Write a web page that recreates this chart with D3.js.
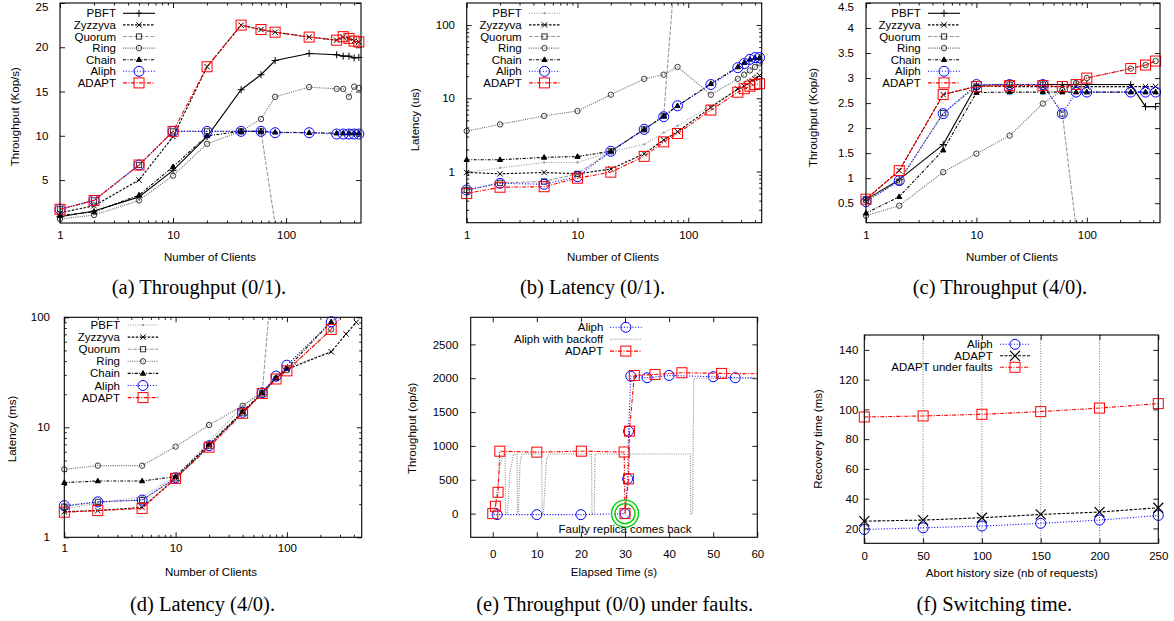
<!DOCTYPE html>
<html>
<head>
<meta charset="utf-8">
<script src="https://cdn.jsdelivr.net/npm/d3@7"></script>
<style>
  body { margin: 0; background: #fff; }
  text { font-family: "Liberation Sans", Arial, sans-serif; font-size: 11.5px; fill: #000; }
  .cap { font-family: "Liberation Serif", "Times New Roman", serif; font-size: 20.5px; }
</style>
</head>
<body>
<svg id="fig" width="1174" height="621"></svg>
<script>

// ---- data ----

// (a) throughput 0/1, (b) latency 0/1
var clientsAB = [1, 2, 5, 10, 20, 40, 60, 80, 160, 280, 320, 360, 400, 440];
var a_pbft     = [0.85, 1.5, 3.1, 6.1, 9.9, 15.2, 16.9, 18.5, 19.3, 19.15, 19.0, 19.0, 18.8, 18.85];
var a_zyzzyva  = [1.3, 2.1, 5.0, 9.9, 17.8, 22.5, 22.0, 21.7, 21.15, 20.8, 21.15, 21.0, 20.7, 20.6];
var a_quorum   = [1.7, 2.7, 6.7, 10.5, 10.5, 10.5, 10.5, 0];
var a_ring     = [0.6, 1.05, 2.7, 5.5, 9.1, 10.5, 11.9, 14.4, 15.5, 15.3, 15.3, 14.4, 15.55, 15.4];
var a_chain    = [1.0, 1.4, 3.3, 6.5, 10.0, 10.5, 10.5, 10.4, 10.35, 10.3, 10.3, 10.3, 10.3, 10.3];
var a_aliph    = [1.7, 2.7, 6.7, 10.5, 10.5, 10.5, 10.5, 10.35, 10.35, 10.2, 10.2, 10.2, 10.2, 10.2];
var a_adapt    = [1.7, 2.7, 6.7, 10.5, 17.8, 22.5, 22.0, 21.7, 21.15, 20.8, 21.2, 21.0, 20.7, 20.6];

var b_pbft     = [0.97, 1.12, 1.33, 1.33, 1.85, 2.35, 3.4, 4.2, 7.9, 13.5, 16.6, 18.5, 20.5, 24];
var b_zyzzyva  = [0.97, 0.93, 0.97, 0.93, 1.08, 1.75, 2.7, 3.5, 7.5, 13.4, 14.6, 16.6, 18.5, 20.5];
var b_quorum   = [0.56, 0.7, 0.73, 0.93, 1.89, 3.76, 5.75, 1600];
var b_ring     = [3.57, 4.4, 5.75, 6.7, 11.2, 18.4, 21, 26.8, 11.2, 18.4, 21, 24, 26.8, 30];
var b_chain    = [1.45, 1.45, 1.56, 1.6, 1.89, 3.76, 5.75, 7.9, 15.8, 26.8, 30.7, 34, 35.8, 35.8];
var b_aliph    = [0.56, 0.69, 0.67, 0.85, 1.89, 3.76, 5.6, 7.9, 15.4, 26.2, 29.8, 34, 36, 36];
var b_adapt    = [0.5, 0.61, 0.62, 0.81, 0.98, 1.61, 2.54, 3.3, 6.9, 12.1, 13.5, 14.6, 15.4, 15.8];

// (c) throughput 4/0, (d) latency 4/0
var clientsCD = [1, 2, 5, 10, 20, 40, 60, 80, 100, 250, 340, 420];
var c_pbft     = [0.57, 0.97, 1.67, 2.85, 2.87, 2.87, 2.87, 2.87, 2.87, 2.87, 2.43, 2.43];
var c_zyzzyva  = [0.58, 1.15, 2.67, 2.84, 2.83, 2.83, 2.83, 2.83, 2.83, 2.83, 2.83, 2.83];
var c_quorum   = [0.57, 0.93, 2.3, 2.83, 2.87, 2.87, 2.29, 0];
var c_ring     = [0.25, 0.45, 1.12, 1.49, 1.85, 2.49, 2.76, 2.9, 3.0, 3.19, 3.26, 3.34];
var c_chain    = [0.3, 0.63, 1.56, 2.71, 2.72, 2.72, 2.72, 2.72, 2.72, 2.72, 2.72, 2.72];
var c_aliph    = [0.53, 0.95, 2.29, 2.87, 2.87, 2.87, 2.29, 2.72, 2.72, 2.72, 2.72, 2.72];
var c_adapt    = [0.58, 1.15, 2.67, 2.83, 2.85, 2.85, 2.83, 2.87, 3.0, 3.19, 3.26, 3.34];

var d_pbft     = [1.8, 2.04, 2.34, 3.56, 7.4, 15.6, 21.2, 28.5, 34.7, 49];
var d_zyzzyva  = [1.71, 1.75, 1.87, 3.43, 6.8, 13.6, 20.3, 27.8, 33.6, 48.6, 70.5, 90];
var d_quorum   = [1.9, 2.1, 2.18, 3.43, 6.8, 13.6, 20.3, 700];
var d_ring     = [4.15, 4.48, 4.48, 6.67, 10.5, 15.7, 20.8, 27.8, 33, 77.6];
var d_chain    = [3.14, 3.25, 3.25, 3.56, 7.0, 13.9, 20.6, 28.3, 34.3, 91];
var d_aliph    = [1.94, 2.1, 2.18, 3.48, 6.8, 13.7, 20.6, 29.2, 36.7, 91, 114];
var d_adapt    = [1.69, 1.75, 1.83, 3.43, 6.6, 13.4, 20.3, 27.5, 32.6, 77.6, 115];

// (e) throughput 0/0 under faults
var e_aliph_t   = [0.2, 1, 10, 20, 30, 30.6, 30.8, 31.3, 35, 40, 50, 55, 59.5];
var e_aliph_v   = [-15, -15, -15, -15, 0, 513, 1218, 2031, 2007, 2041, 2022, 2007, 2005];
var e_aliph_pt  = [0, 1, 1, 1, 1, 1, 1, 1, 1, 1, 1, 1, 0];
var e_backoff_t = [0.3, 1.0, 1.6, 2.4, 2.8, 2.9, 3.3, 3.9, 4.7, 5.5, 5.6, 5.8, 6.2, 6.6,
                   11.1, 11.2, 11.5, 12.2, 12.8, 22.4, 22.5, 23.0, 23.2, 44.8, 44.9, 45.3, 45.6, 60];
var e_backoff_v = [0, 350, 700, 880, 880, 0, 0, 600, 870, 880, 0, 0, 750, 880,
                   880, 0, 0, 800, 880, 880, 0, 0, 880, 880, 0, 0, 2000, 2000];
var e_adapt_t   = [0, 0.6, 1.2, 1.6, 10, 20.1, 29.8, 30, 30.8, 31.0, 32.1, 36.8, 42.9, 51.9, 60];
var e_adapt_v   = [0, 108, 315, 922, 908, 922, 910, 0, 513, 1218, 2041, 2056, 2081, 2071, 2065];
var e_adapt_pt  = [1, 1, 1, 1, 1, 1, 1, 1, 1, 1, 1, 1, 1, 1, 0];

// (f) switching time
var abortSizes   = [0, 50, 100, 150, 200, 250];
var f_aliph      = [19.3, 20.4, 21.6, 23.4, 25.6, 28.7];
var f_adapt      = [24.9, 25.6, 27.2, 29.4, 31.0, 33.9];
var f_adaptFault = [94.9, 95.6, 96.7, 98.5, 100.9, 103.9];

// tick values
var clientTicks   = [1, 10, 100];
var tputATicks    = [5, 10, 15, 20, 25];
var latTicks      = [1, 10, 100];
var tputCTicks    = [0.5, 1, 1.5, 2, 2.5, 3, 3.5, 4, 4.5];
var timeTicks     = [0, 10, 20, 30, 40, 50, 60];
var tputETicks    = [0, 500, 1000, 1500, 2000, 2500];
var abortTicks    = [0, 50, 100, 150, 200, 250];
var recoveryTicks = [20, 40, 60, 80, 100, 120, 140];

// ---- line styles (gnuplot look) ----
var styles = {
  pbft:     {color: "#000", dash: null,            marker: "plus"},
  pbftGray: {color: "#9a9a9a", dash: "1,1.5",      marker: "dot"},
  zyzzyva:  {color: "#000", dash: "2.5,1.5",       marker: "cross"},
  quorum:   {color: "#999", dash: "4,1.5",         marker: "square", mcolor: "#333"},
  ring:     {color: "#666", dash: "1,1.2",         marker: "circle", mcolor: "#3a3a3a"},
  chain:    {color: "#000", dash: "3,1.5,1,1.5",   marker: "triangle"},
  aliph:    {color: "#0000ff", dash: "1,1.8",      marker: "bigcircle"},
  adapt:    {color: "#ff0000", dash: "4,1.5,1,1.5", marker: "bigsquare"},
  backoff:  {color: "#8a8a8a", dash: "1,1.3",      marker: null},
  adaptX:   {color: "#000", dash: "3,1.5",         marker: "bigcross"}
};

var svg = d3.select("#fig");

function drawMarker(g, type, cx, cy, color) {
  var m = g.append("g")
    .attr("transform", "translate(" + cx + "," + cy + ")")
    .attr("stroke", color).attr("fill", "none").attr("stroke-width", 1);
  if (type == "plus") m.append("path").attr("d", "M-3.5,0H3.5M0,-3.5V3.5");
  if (type == "cross") m.append("path").attr("d", "M-2.7,-2.7L2.7,2.7M-2.7,2.7L2.7,-2.7");
  if (type == "bigcross") m.append("path").attr("d", "M-5,-5L5,5M-5,5L5,-5").attr("stroke-width", 1.2);
  if (type == "square") m.append("rect").attr("x", -2.6).attr("y", -2.6).attr("width", 5.2).attr("height", 5.2);
  if (type == "circle") m.append("circle").attr("r", 2.7);
  if (type == "dot") m.append("circle").attr("r", 0.8).attr("fill", color);
  if (type == "triangle") m.append("path").attr("d", "M0,-2.8L2.6,1.8L-2.6,1.8Z").attr("fill", color);
  if (type == "bigcircle") m.append("circle").attr("r", 5);
  if (type == "bigsquare") m.append("rect").attr("x", -5).attr("y", -5).attr("width", 10).attr("height", 10);
}

function minorLog(dom) {
  var out = [];
  for (var e = Math.floor(Math.log10(dom[0])); e <= Math.ceil(Math.log10(dom[1])); e++) {
    for (var k = 2; k <= 9; k++) {
      var v = k * Math.pow(10, e);
      if (v > dom[0] && v < dom[1]) out.push(v);
    }
  }
  return out;
}

function drawPanel(p) {
  var g = svg.append("g");
  var x = (p.xlog ? d3.scaleLog() : d3.scaleLinear()).domain(p.xdom).range([p.left, p.right]);
  var y = (p.ylog ? d3.scaleLog() : d3.scaleLinear()).domain(p.ydom).range([p.bottom, p.top]);

  svg.append("clipPath").attr("id", "clip" + p.key)
    .append("rect")
    .attr("x", p.left).attr("y", p.top)
    .attr("width", p.right - p.left).attr("height", p.bottom - p.top);

  // vertical grid (only f)
  if (p.grid) {
    g.selectAll(".grid").data(p.xticks.slice(1, -1)).enter().append("line")
      .attr("x1", function(d) { return x(d); }).attr("x2", function(d) { return x(d); })
      .attr("y1", p.top).attr("y2", p.bottom)
      .attr("stroke", "#555").attr("stroke-width", 0.8).attr("stroke-dasharray", "1,1.6");
  }

  // axes: major ticks inward on all four sides, minor ticks on log axes
  var fmt = function(d) { return String(d); };
  function styleAxis(sel) {
    sel.select(".domain").remove();
    sel.selectAll("line").attr("stroke", "#000").attr("stroke-width", 0.9);
    sel.selectAll("text").attr("font-family", null).attr("font-size", null);
  }
  g.append("g").attr("transform", "translate(0," + p.bottom + ")")
    .call(d3.axisBottom(x).tickValues(p.xticks).tickFormat(fmt).tickSize(-5).tickPadding(p.xpad))
    .call(styleAxis);
  g.append("g").attr("transform", "translate(0," + p.top + ")")
    .call(d3.axisTop(x).tickValues(p.xticks).tickFormat("").tickSize(-5))
    .call(styleAxis);
  var yAxis = g.append("g").attr("transform", "translate(" + p.left + ",0)")
    .call(d3.axisLeft(y).tickValues(p.yticks).tickFormat(fmt).tickSize(-5).tickPadding(p.ypad))
    .call(styleAxis);
  // keep the topmost label inside the page
  yAxis.selectAll(".tick").each(function(d) {
    if (y(d) < 7) d3.select(this).select("text").attr("y", 7 - y(d));
  });
  g.append("g").attr("transform", "translate(" + p.right + ",0)")
    .call(d3.axisRight(y).tickValues(p.yticks).tickFormat("").tickSize(-5))
    .call(styleAxis);
  if (p.xlog) {
    var mx = minorLog(p.xdom);
    g.append("g").attr("transform", "translate(0," + p.bottom + ")")
      .call(d3.axisBottom(x).tickValues(mx).tickFormat("").tickSize(-2.5)).call(styleAxis);
    g.append("g").attr("transform", "translate(0," + p.top + ")")
      .call(d3.axisTop(x).tickValues(mx).tickFormat("").tickSize(-2.5)).call(styleAxis);
  }
  if (p.ylog) {
    var my = minorLog(p.ydom);
    g.append("g").attr("transform", "translate(" + p.left + ",0)")
      .call(d3.axisLeft(y).tickValues(my).tickFormat("").tickSize(-2.5)).call(styleAxis);
    g.append("g").attr("transform", "translate(" + p.right + ",0)")
      .call(d3.axisRight(y).tickValues(my).tickFormat("").tickSize(-2.5)).call(styleAxis);
  }

  // series
  var line = d3.line().x(function(d) { return x(d[0]); }).y(function(d) { return y(d[1]); });
  p.series.forEach(function(s) {
    var st = styles[s.style];
    var pts = s.ys.map(function(v, i) { return [s.xs[i], v, s.pts ? s.pts[i] : 1]; })
      .filter(function(d) { return d[1] != null; });
    g.append("path").datum(pts)
      .attr("clip-path", "url(#clip" + p.key + ")")
      .attr("d", line)
      .attr("fill", "none").attr("stroke", st.color).attr("stroke-width", 1.1)
      .attr("stroke-dasharray", st.dash);
    if (st.marker) {
      pts.forEach(function(d) {
        if (!d[2] || d[1] < p.ydom[0] || d[1] > p.ydom[1]) return;
        drawMarker(g, st.marker, x(d[0]), y(d[1]), st.mcolor || st.color);
      });
    }
  });

  // legend
  var L = p.legend;
  p.series.forEach(function(s, i) {
    var st = styles[s.style];
    var ly = L.y0 + i * L.dy;
    g.append("text").attr("x", L.tx).attr("y", ly)
      .attr("text-anchor", "end").attr("dominant-baseline", "central").text(s.name);
    g.append("line").attr("x1", L.lx0).attr("x2", L.lx1).attr("y1", ly).attr("y2", ly)
      .attr("stroke", st.color).attr("stroke-width", 1.1).attr("stroke-dasharray", st.dash);
    if (st.marker) drawMarker(g, st.marker, (L.lx0 + L.lx1) / 2, ly, st.mcolor || st.color);
  });

  // frame
  g.append("rect").attr("x", p.left).attr("y", p.top)
    .attr("width", p.right - p.left).attr("height", p.bottom - p.top)
    .attr("fill", "none").attr("stroke", "#000").attr("stroke-width", 1.1);

  // titles
  g.append("text").attr("x", p.xlabel[1]).attr("y", p.xlabel[2])
    .attr("text-anchor", "middle").attr("dominant-baseline", "central").text(p.xlabel[0]);
  g.append("text").attr("transform", "translate(" + p.ylabel[1] + "," + p.ylabel[2] + ") rotate(-90)")
    .attr("text-anchor", "middle").attr("dominant-baseline", "central").text(p.ylabel[0]);
  g.append("text").attr("class", "cap").attr("x", p.caption[1]).attr("y", p.caption[2])
    .attr("text-anchor", "middle").attr("dominant-baseline", "central").text(p.caption[0]);

  if (p.extra) p.extra(g, x, y);
}

function nameSeries(xs, list) {
  return list.map(function(d) { return {name: d[0], style: d[1], xs: xs, ys: d[2]}; });
}

drawPanel({
  key: "a", left: 60, right: 361, top: 3, bottom: 223,
  xlog: true, xdom: [1, 460], ylog: false, ydom: [0.15, 25],
  xticks: clientTicks, yticks: tputATicks, xpad: 8, ypad: 11.7,
  xlabel: ["Number of Clients", 210, 257], ylabel: ["Throughput (Kop/s)", 15, 116.7],
  caption: ["(a) Throughput (0/1).", 199, 287.3],
  legend: {tx: 116, lx0: 123, lx1: 155, y0: 13.3, dy: 11.6},
  series: nameSeries(clientsAB, [
    ["PBFT", "pbft", a_pbft], ["Zyzzyva", "zyzzyva", a_zyzzyva], ["Quorum", "quorum", a_quorum],
    ["Ring", "ring", a_ring], ["Chain", "chain", a_chain], ["Aliph", "aliph", a_aliph], ["ADAPT", "adapt", a_adapt]])
});

drawPanel({
  key: "b", left: 466.7, right: 761.7, top: 3, bottom: 222.7,
  xlog: true, xdom: [1, 460], ylog: true, ydom: [0.2, 200],
  xticks: clientTicks, yticks: latTicks, xpad: 8, ypad: 11.7,
  xlabel: ["Number of Clients", 613, 256.7], ylabel: ["Latency (us)", 415, 119.7],
  caption: ["(b) Latency (0/1).", 592.5, 287.3],
  legend: {tx: 521.7, lx0: 529, lx1: 560, y0: 13.3, dy: 11.6},
  series: nameSeries(clientsAB, [
    ["PBFT", "pbftGray", b_pbft], ["Zyzzyva", "zyzzyva", b_zyzzyva], ["Quorum", "quorum", b_quorum],
    ["Ring", "ring", b_ring], ["Chain", "chain", b_chain], ["Aliph", "aliph", b_aliph], ["ADAPT", "adapt", b_adapt]])
});

drawPanel({
  key: "c", left: 866, right: 1160, top: 3, bottom: 222.7,
  xlog: true, xdom: [1, 460], ylog: false, ydom: [0.11, 4.5],
  xticks: clientTicks, yticks: tputCTicks, xpad: 8, ypad: 12,
  xlabel: ["Number of Clients", 1012, 256.7], ylabel: ["Throughput (Kop/s)", 813.3, 117.5],
  caption: ["(c) Throughput (4/0).", 1000, 287.3],
  legend: {tx: 920.7, lx0: 928, lx1: 960, y0: 13.3, dy: 11.6},
  series: nameSeries(clientsCD, [
    ["PBFT", "pbft", c_pbft], ["Zyzzyva", "zyzzyva", c_zyzzyva], ["Quorum", "quorum", c_quorum],
    ["Ring", "ring", c_ring], ["Chain", "chain", c_chain], ["Aliph", "aliph", c_aliph], ["ADAPT", "adapt", c_adapt]])
});

drawPanel({
  key: "d", left: 64.3, right: 361.7, top: 317.3, bottom: 537.3,
  xlog: true, xdom: [1, 470], ylog: true, ydom: [1, 100],
  xticks: clientTicks, yticks: latTicks, xpad: 7, ypad: 14.3,
  xlabel: ["Number of Clients", 211, 571.7], ylabel: ["Latency (ms)", 11.7, 429],
  caption: ["(d) Latency (4/0).", 202.5, 604],
  legend: {tx: 120, lx0: 127.7, lx1: 158.3, y0: 325, dy: 12.1},
  series: nameSeries(clientsCD, [
    ["PBFT", "pbftGray", d_pbft], ["Zyzzyva", "zyzzyva", d_zyzzyva], ["Quorum", "quorum", d_quorum],
    ["Ring", "ring", d_ring], ["Chain", "chain", d_chain], ["Aliph", "aliph", d_aliph], ["ADAPT", "adapt", d_adapt]])
});

drawPanel({
  key: "e", left: 470.7, right: 757.3, top: 317.3, bottom: 537.3,
  xlog: false, xdom: [-5, 60], ylog: false, ydom: [-350, 2900],
  xticks: timeTicks, yticks: tputETicks, xpad: 12.6, ypad: 12.4,
  xlabel: ["Elapsed Time (s)", 614, 572.3], ylabel: ["Throughput (op/s)", 411.7, 428.3],
  caption: ["(e) Throughput (0/0) under faults.", 614.7, 604],
  legend: {tx: 603.3, lx0: 610, lx1: 641.7, y0: 327.3, dy: 11.9},
  series: [
    {name: "Aliph", style: "aliph", xs: e_aliph_t, ys: e_aliph_v, pts: e_aliph_pt},
    {name: "Aliph with backoff", style: "backoff", xs: e_backoff_t, ys: e_backoff_v},
    {name: "ADAPT", style: "adapt", xs: e_adapt_t, ys: e_adapt_v, pts: e_adapt_pt}
  ],
  extra: function(g, x, y) {
    [13.5, 10].forEach(function(r) {
      g.append("circle").attr("cx", x(30)).attr("cy", y(0)).attr("r", r)
        .attr("fill", "none").attr("stroke", "#00d000").attr("stroke-width", 1.4);
    });
    g.append("text").attr("x", 625).attr("y", 529.3)
      .attr("text-anchor", "middle").attr("dominant-baseline", "central")
      .text("Faulty replica comes back");
  }
});

drawPanel({
  key: "f", left: 864.3, right: 1158.3, top: 335, bottom: 543.3,
  xlog: false, xdom: [0, 250], ylog: false, ydom: [10, 150], grid: true,
  xticks: abortTicks, yticks: recoveryTicks, xpad: 8.6, ypad: 6,
  xlabel: ["Abort history size (nb of requests)", 1011.8, 572.7], ylabel: ["Recovery time (ms)", 818.3, 439],
  caption: ["(f) Switching time.", 994.3, 604],
  legend: {tx: 992.7, lx0: 1000, lx1: 1030, y0: 344.3, dy: 11.5},
  series: nameSeries(abortSizes, [
    ["Aliph", "aliph", f_aliph], ["ADAPT", "adaptX", f_adapt], ["ADAPT under faults", "adapt", f_adaptFault]])
});

</script>
</body>
</html>
